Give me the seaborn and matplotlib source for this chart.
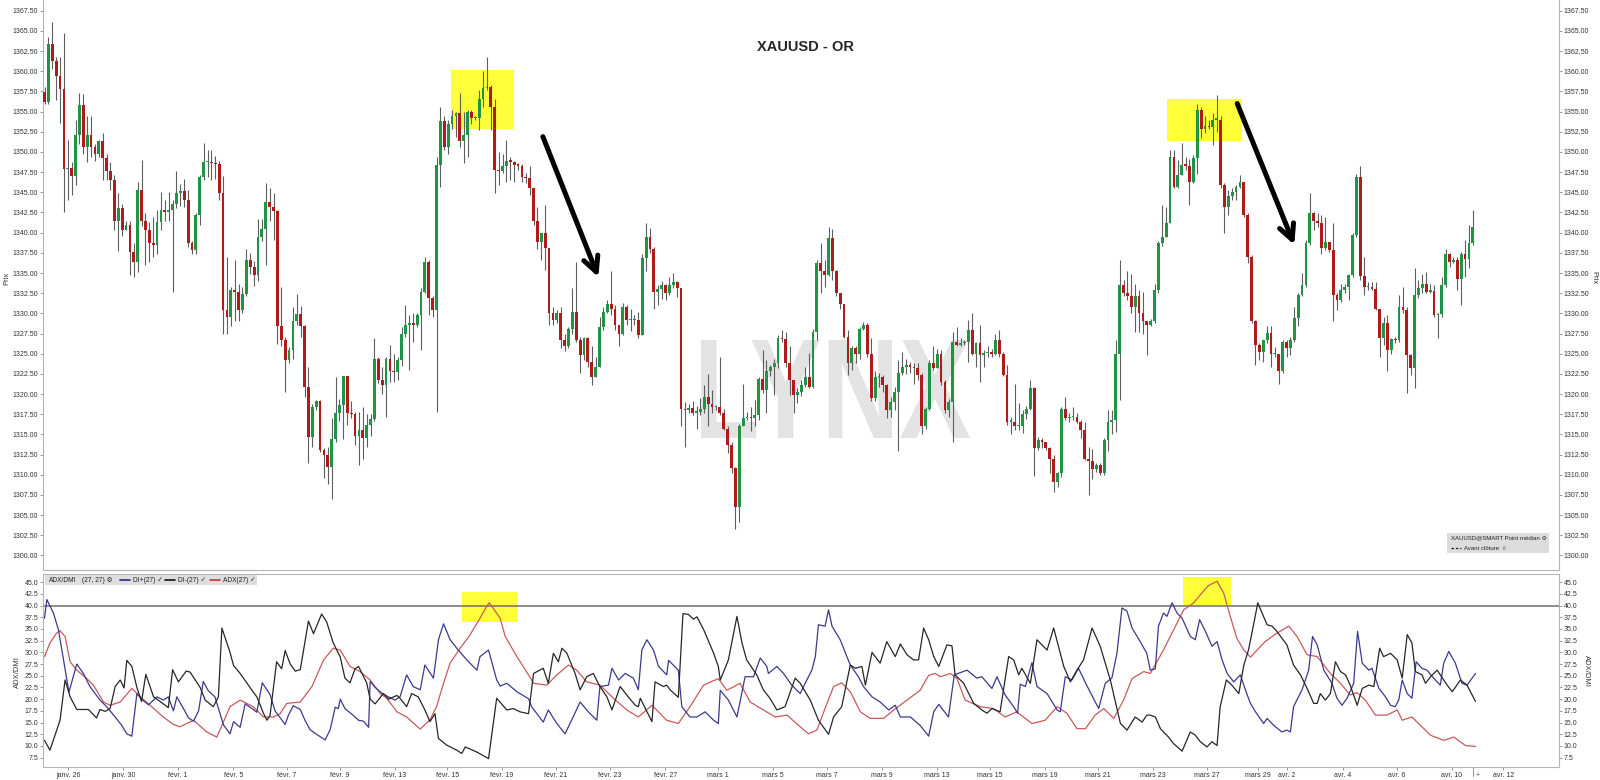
import numpy as np
import matplotlib
matplotlib.use("Agg")
import matplotlib.pyplot as plt
import seaborn as sns
from matplotlib.patches import Rectangle, PathPatch
from matplotlib.lines import Line2D
from matplotlib.textpath import TextPath
from matplotlib.font_manager import FontProperties
from matplotlib.transforms import Affine2D

# --- price data (4h candles) ---
first_open = 1357.4

closes = [
    # janv. 25 -> févr. 12
    1356.2, 1363.4, 1361.3, 1359.4, 1357.8, 1347.9, 1348.0, 1347.0, 1352.1, 1355.8,
    1350.6, 1352.1, 1350.6, 1349.8, 1351.3, 1349.3, 1347.7, 1346.5, 1341.5, 1343.0,
    1340.3, 1341.0, 1337.6, 1336.4, 1345.3, 1341.5, 1340.3, 1338.7, 1338.5, 1341.3,
    1342.8, 1342.6, 1342.8, 1343.6, 1344.9, 1345.2, 1344.0, 1338.7, 1337.8, 1342.2,
    1346.9, 1348.7, 1348.8, 1348.6, 1348.5, 1344.9, 1330.4, 1329.5, 1332.9, 1332.6,
    1330.4, 1332.4, 1336.6, 1335.7, 1334.7, 1339.5, 1340.5, 1343.8, 1343.2, 1342.7,
    1328.4, 1326.7, 1324.2, 1325.5, 1329.1, 1329.9, 1328.4, 1320.9, 1314.7, 1318.4,
    1319.1, 1313.1, 1312.5, 1311.0, 1314.4, 1317.6, 1318.6, 1322.2, 1317.6, 1317.5,
    1314.8, 1315.6, 1314.5, 1316.2, 1316.9, 1324.4, 1321.8, 1321.1, 1324.4, 1322.8,
    1322.7,
    # févr. 12 -> mars 5
    1324.2, 1327.5, 1328.6, 1328.8, 1328.5, 1329.8, 1332.6, 1336.4, 1331.9, 1330.4,
    1348.4, 1353.8, 1350.6, 1353.5, 1354.4, 1354.8, 1351.3, 1352.1, 1355.0, 1354.2,
    1354.2, 1356.6, 1357.9, 1358.1, 1355.6, 1347.8, 1347.6, 1348.2, 1348.9, 1348.8,
    1348.4, 1348.3, 1346.9, 1346.8, 1345.5, 1341.4, 1338.9, 1339.9, 1338.1, 1330.0,
    1329.2, 1330.0, 1326.7, 1325.9, 1328.1, 1330.2, 1326.7, 1324.8, 1326.9, 1324.0,
    1322.1, 1323.3, 1328.3, 1330.2, 1331.2, 1330.5, 1328.6, 1327.5, 1330.8, 1329.2,
    1329.2, 1329.2, 1327.3, 1336.8, 1339.5, 1338.0, 1332.7, 1333.0, 1333.5, 1332.5,
    1333.5, 1333.9, 1333.1, 1318.2, 1318.0, 1318.3, 1317.7, 1317.8, 1318.2, 1319.6,
    1318.8, 1318.4, 1318.4, 1317.6, 1315.7, 1313.7, 1310.8, 1306.0, 1316.1, 1317.0,
    1317.2, 1317.0, 1317.4, 1321.9, 1320.5, 1322.8, 1323.3, 1323.8, 1326.9, 1326.8,
    1323.8, 1321.7, 1319.9,
    # mars 5 -> mars 23
    1320.3, 1321.1, 1322.1, 1320.9, 1327.7, 1336.2, 1335.2, 1334.8, 1339.3, 1335.2,
    1332.5, 1331.2, 1327.1, 1323.8, 1325.7, 1325.0, 1328.1, 1328.5, 1325.0, 1319.5,
    1322.1, 1322.1, 1321.1, 1318.0, 1319.0, 1320.3, 1322.6, 1323.4, 1323.6, 1323.3,
    1323.2, 1322.4, 1316.0, 1318.2, 1323.8, 1323.2, 1325.0, 1321.5, 1318.0, 1319.0,
    1326.5, 1326.1, 1326.3, 1326.5, 1327.9, 1325.0, 1326.3, 1324.8, 1325.1, 1325.2,
    1325.0, 1326.7, 1325.0, 1322.4, 1316.6, 1316.6, 1316.0, 1316.1, 1317.5, 1318.2,
    1320.7, 1313.3, 1314.3, 1314.1, 1313.3, 1312.0, 1309.1, 1310.2, 1318.2, 1317.0,
    1317.1, 1317.2, 1316.6, 1315.5, 1311.9, 1311.7, 1310.7, 1311.2, 1310.2, 1314.3,
    1316.6, 1316.8, 1325.0, 1333.5, 1332.5, 1332.1, 1330.8, 1332.1, 1330.0, 1329.0,
    1328.6, 1329.0, 1332.9, 1338.7, 1339.5, 1341.2,
    # mars 23 -> avr. 10
    1349.4, 1345.7, 1347.1, 1348.4, 1348.3, 1346.3, 1349.2, 1355.2, 1352.9, 1353.2,
    1353.1, 1354.0, 1354.0, 1345.9, 1343.2, 1344.5, 1345.1, 1345.7, 1346.3, 1342.2,
    1337.0, 1329.0, 1326.1, 1325.2, 1326.7, 1327.6, 1325.0, 1325.0, 1322.8, 1326.5,
    1325.7, 1326.7, 1329.4, 1332.3, 1333.5, 1338.7, 1342.4, 1341.4, 1341.2, 1338.1,
    1338.8, 1337.9, 1332.3, 1331.7, 1332.9, 1333.3, 1334.7, 1339.7, 1346.9, 1334.6,
    1333.3, 1333.3, 1333.0, 1330.6, 1326.9, 1328.8, 1325.5, 1326.8, 1326.7, 1330.8,
    1330.4, 1324.8, 1323.2, 1332.3, 1333.1, 1333.7, 1332.7, 1332.8, 1329.8, 1329.9,
    1333.5, 1337.4, 1336.4, 1336.6, 1334.3, 1337.4, 1336.7, 1338.7, 1340.7,
]

highs = [
    1358.0, 1364.2, 1366.1, 1361.8, 1361.8, 1364.8, 1351.5, 1348.7, 1353.9, 1357.3,
    1357.2, 1354.5, 1354.4, 1351.0, 1351.5, 1352.4, 1349.7, 1348.8, 1347.1, 1344.9,
    1343.5, 1341.5, 1341.5, 1338.7, 1346.3, 1349.0, 1342.4, 1341.3, 1341.9, 1342.8,
    1345.1, 1344.0, 1345.1, 1344.0, 1347.7, 1346.0, 1346.7, 1345.3, 1339.0, 1342.4,
    1347.1, 1351.1, 1350.2, 1350.2, 1349.5, 1348.9, 1347.0, 1337.0, 1333.3, 1336.6,
    1333.7, 1333.3, 1338.0, 1337.5, 1336.5, 1341.7, 1341.7, 1346.2, 1345.5, 1344.9,
    1342.8, 1333.3, 1327.1, 1325.8, 1330.8, 1332.4, 1330.9, 1328.5, 1323.3, 1318.8,
    1319.3, 1319.3, 1313.3, 1313.4, 1317.0, 1322.1, 1319.4, 1322.3, 1322.3, 1319.2,
    1317.8, 1317.8, 1318.4, 1317.5, 1317.5, 1326.9, 1324.6, 1323.3, 1324.6, 1326.1,
    1325.0,
    1324.6, 1328.3, 1331.0, 1329.8, 1330.0, 1330.0, 1333.1, 1337.0, 1336.6, 1332.1,
    1349.4, 1355.6, 1354.4, 1354.0, 1355.2, 1355.0, 1357.3, 1355.0, 1355.2, 1355.2,
    1354.4, 1357.7, 1360.0, 1361.8, 1358.3, 1356.6, 1350.0, 1349.8, 1351.5, 1349.4,
    1348.9, 1348.6, 1348.5, 1347.4, 1348.2, 1345.5, 1343.2, 1340.0, 1343.4, 1338.1,
    1330.8, 1330.4, 1330.8, 1327.5, 1328.3, 1333.1, 1336.4, 1327.1, 1327.1, 1327.1,
    1325.9, 1324.6, 1329.6, 1330.8, 1331.6, 1335.2, 1331.0, 1328.6, 1331.3, 1331.0,
    1330.5, 1329.8, 1330.2, 1337.4, 1341.2, 1340.6, 1338.2, 1333.5, 1334.0, 1333.7,
    1334.5, 1335.0, 1334.0, 1333.2, 1319.0, 1318.8, 1319.1, 1318.5, 1319.5, 1321.1,
    1322.5, 1320.5, 1318.7, 1324.6, 1318.2, 1316.0, 1314.0, 1311.0, 1316.3, 1321.3,
    1317.8, 1318.4, 1319.3, 1322.1, 1325.5, 1324.2, 1323.6, 1324.4, 1327.3, 1327.9,
    1327.7, 1325.9, 1321.7,
    1320.7, 1321.7, 1323.4, 1325.1, 1328.1, 1336.6, 1338.7, 1336.6, 1340.7, 1340.5,
    1335.4, 1332.5, 1331.2, 1327.9, 1325.9, 1325.9, 1328.3, 1328.9, 1328.8, 1326.9,
    1322.8, 1322.6, 1322.4, 1321.3, 1319.6, 1320.9, 1324.2, 1325.2, 1324.4, 1324.0,
    1323.8, 1323.8, 1322.6, 1318.4, 1324.2, 1325.9, 1325.6, 1325.5, 1321.7, 1319.4,
    1327.7, 1328.3, 1326.9, 1326.7, 1329.2, 1330.0, 1326.5, 1328.6, 1325.5, 1325.9,
    1325.6, 1327.5, 1328.0, 1325.2, 1323.6, 1317.2, 1321.3, 1318.9, 1318.0, 1318.5,
    1321.7, 1320.9, 1314.7, 1314.5, 1313.6, 1313.5, 1312.4, 1310.4, 1318.4, 1319.6,
    1317.6, 1318.4, 1317.6, 1316.8, 1316.6, 1313.4, 1313.2, 1311.4, 1311.4, 1314.5,
    1318.0, 1318.0, 1326.7, 1336.6, 1334.1, 1335.2, 1334.9, 1333.7, 1332.9, 1332.7,
    1329.0, 1329.3, 1333.7, 1339.0, 1343.4, 1343.2,
    1350.2, 1350.2, 1349.0, 1351.1, 1349.4, 1349.1, 1349.6, 1356.0, 1355.6, 1354.4,
    1354.0, 1354.8, 1357.0, 1354.4, 1346.1, 1345.3, 1345.5, 1345.9, 1347.1, 1346.3,
    1342.4, 1337.2, 1329.2, 1326.3, 1326.7, 1328.4, 1328.4, 1325.8, 1325.0, 1326.7,
    1326.7, 1327.1, 1330.8, 1332.5, 1335.0, 1339.1, 1344.9, 1342.6, 1342.4, 1342.2,
    1341.9, 1338.8, 1341.2, 1332.5, 1333.7, 1333.7, 1334.9, 1339.9, 1347.3, 1348.2,
    1337.0, 1333.9, 1333.9, 1333.9, 1330.6, 1329.6, 1329.8, 1326.9, 1327.1, 1332.3,
    1333.3, 1330.8, 1325.0, 1335.6, 1334.1, 1334.9, 1335.1, 1333.7, 1333.5, 1330.1,
    1334.5, 1338.0, 1337.5, 1337.0, 1337.0, 1337.6, 1339.1, 1340.9, 1342.8,
]

lows = [
    1355.9, 1356.0, 1360.3, 1356.4, 1353.6, 1342.5, 1344.0, 1344.7, 1345.9, 1351.0,
    1349.8, 1348.8, 1349.4, 1348.9, 1349.4, 1346.5, 1346.5, 1345.3, 1340.3, 1337.7,
    1339.6, 1340.3, 1334.7, 1334.5, 1335.1, 1340.8, 1336.0, 1336.4, 1337.0, 1337.4,
    1340.3, 1341.5, 1341.5, 1332.7, 1343.0, 1343.3, 1343.2, 1338.2, 1337.4, 1337.4,
    1340.9, 1346.5, 1346.9, 1346.5, 1346.7, 1344.0, 1327.5, 1327.5, 1328.4, 1329.1,
    1329.0, 1330.0, 1332.2, 1334.9, 1333.4, 1334.0, 1339.0, 1336.0, 1341.5, 1339.1,
    1326.2, 1326.0, 1320.2, 1323.8, 1324.4, 1328.5, 1327.1, 1319.6, 1311.4, 1313.4,
    1318.0, 1312.8, 1309.6, 1308.8, 1307.0, 1314.0, 1316.7, 1314.4, 1316.2, 1317.0,
    1313.7, 1311.2, 1312.0, 1313.5, 1314.8, 1316.7, 1321.4, 1320.0, 1317.1, 1321.5,
    1321.5,
    1321.7, 1323.5, 1327.1, 1323.0, 1326.5, 1328.3, 1325.5, 1332.5, 1329.8, 1329.6,
    1317.8, 1345.7, 1350.2, 1349.8, 1352.9, 1351.9, 1350.6, 1348.6, 1349.4, 1353.5,
    1354.0, 1352.7, 1355.6, 1357.7, 1352.7, 1344.9, 1345.9, 1347.4, 1346.3, 1346.5,
    1346.3, 1347.8, 1346.3, 1346.2, 1344.7, 1341.0, 1338.0, 1336.6, 1335.4, 1328.6,
    1328.6, 1328.8, 1325.7, 1325.3, 1325.7, 1327.5, 1326.5, 1322.6, 1324.2, 1323.3,
    1321.1, 1322.1, 1323.3, 1328.0, 1330.0, 1329.8, 1328.0, 1326.0, 1327.3, 1328.5,
    1327.8, 1328.5, 1327.0, 1327.3, 1335.2, 1337.5, 1330.5, 1331.0, 1331.8, 1331.6,
    1332.3, 1333.2, 1332.0, 1316.0, 1313.5, 1317.6, 1317.4, 1315.7, 1317.4, 1317.6,
    1316.0, 1317.6, 1318.0, 1317.4, 1315.5, 1312.7, 1310.2, 1303.3, 1304.2, 1316.2,
    1316.8, 1315.4, 1316.0, 1316.8, 1320.1, 1317.6, 1322.2, 1319.9, 1323.2, 1326.5,
    1323.4, 1319.9, 1317.6,
    1318.9, 1319.7, 1320.9, 1320.7, 1320.7, 1326.7, 1332.5, 1333.3, 1334.6, 1334.1,
    1332.1, 1330.6, 1326.9, 1322.4, 1323.0, 1323.8, 1324.4, 1327.9, 1324.6, 1319.2,
    1319.2, 1320.9, 1320.3, 1317.0, 1317.2, 1318.0, 1313.0, 1322.4, 1322.5, 1322.6,
    1321.3, 1321.7, 1315.1, 1315.7, 1318.0, 1323.0, 1323.4, 1321.1, 1317.6, 1317.2,
    1314.1, 1325.9, 1325.9, 1326.1, 1324.0, 1324.8, 1323.4, 1321.5, 1323.4, 1324.6,
    1324.6, 1324.8, 1324.6, 1322.2, 1316.2, 1315.1, 1315.5, 1315.5, 1315.2, 1316.9,
    1318.0, 1309.8, 1313.1, 1313.3, 1313.1, 1310.2, 1307.9, 1308.5, 1309.7, 1316.8,
    1316.6, 1316.8, 1316.4, 1314.5, 1311.8, 1307.5, 1309.5, 1310.4, 1310.0, 1310.0,
    1313.0, 1315.1, 1315.3, 1319.3, 1332.1, 1331.6, 1330.0, 1327.7, 1327.7, 1327.5,
    1324.8, 1328.4, 1328.8, 1332.5, 1338.3, 1339.5,
    1341.2, 1345.5, 1345.5, 1347.1, 1347.8, 1343.4, 1346.1, 1347.3, 1351.7, 1352.3,
    1352.9, 1350.9, 1352.5, 1345.5, 1339.9, 1342.2, 1344.0, 1344.0, 1345.5, 1342.0,
    1336.2, 1328.8, 1323.6, 1324.2, 1324.0, 1326.3, 1323.4, 1324.6, 1321.3, 1322.6,
    1324.6, 1324.8, 1326.5, 1328.4, 1332.1, 1333.3, 1338.5, 1340.3, 1340.7, 1337.4,
    1337.8, 1337.6, 1329.0, 1330.4, 1331.4, 1332.5, 1331.7, 1334.5, 1339.5, 1334.1,
    1332.3, 1332.9, 1332.9, 1330.4, 1324.6, 1326.1, 1322.8, 1325.0, 1326.3, 1326.5,
    1330.0, 1320.1, 1322.4, 1320.7, 1331.9, 1332.5, 1332.5, 1332.5, 1329.6, 1326.9,
    1329.6, 1333.3, 1335.8, 1336.2, 1332.9, 1331.0, 1334.5, 1335.6, 1338.5,
]

# --- ADX / DMI (27, 27): (bar index, value) ---
di_plus = [
    (0, 37.3), (0.6, 41.3), (2.3, 38.4), (3.6, 34.8), (4.9, 28.4), (6.3, 21.5), (8.3, 27.5), (10.0, 25.5), (11.7, 22.7), (14.3, 19.8),
    (16.0, 18.4), (18.2, 16.2), (19.9, 14.4), (21.2, 12.6), (22.5, 12.1), (23.8, 21.2), (25.0, 20.0), (26.8, 18.8), (29.0, 20.5), (30.6, 19.8),
    (31.9, 20.5), (33.2, 17.5), (34.1, 20.5), (35.8, 18.0), (37.1, 16.0), (38.4, 15.3), (39.7, 17.5), (40.9, 23.8), (42.2, 21.8), (43.9, 20.5),
    (45.2, 17.0), (46.1, 14.5), (47.8, 12.6), (48.7, 15.2), (50.4, 14.0), (51.7, 19.0), (53.8, 17.8), (54.7, 17.2), (56.1, 23.5), (58.1, 21.0),
    (59.4, 17.5), (62.0, 14.6), (62.8, 16.5), (64.1, 18.6), (65.9, 17.8), (67.1, 15.5), (68.4, 13.5), (70.1, 12.5), (72.3, 11.3), (73.6, 13.5),
    (74.9, 18.3), (75.7, 18.0), (76.2, 20.0), (77.4, 18.0), (79.6, 16.5), (80.9, 15.5), (82.2, 15.3), (83.5, 14.0), (83.9, 23.8), (85.2, 22.5),
    (86.9, 21.3), (88.6, 20.5), (90.3, 19.8),
    (91.6, 20.5), (93.3, 25.2), (95.0, 22.7), (96.8, 22.0), (98.0, 27.3), (100.2, 24.5), (101.5, 32.7), (102.8, 36.1), (104.5, 32.7), (106.6, 30.5),
    (108.8, 28.4), (111.4, 26.2), (112.2, 29.1), (114.4, 30.5), (116.5, 24.1), (117.4, 22.8), (119.1, 23.4), (121.7, 21.6), (124.7, 20.1), (125.5, 18.4),
    (128.5, 15.1), (129.8, 17.7), (132.0, 14.8), (134.1, 12.6), (135.8, 15.5), (138.0, 19.4), (140.1, 17.3), (142.3, 15.5), (143.1, 22.7), (145.3, 23.0),
    (146.2, 26.6), (147.9, 24.1), (149.6, 25.5), (151.7, 24.5), (153.0, 22.0), (153.9, 30.5), (155.2, 32.7), (156.9, 30.5), (158.2, 27.0), (160.3, 25.2),
    (160.8, 28.3), (163.3, 26.2), (164.2, 18.4), (166.3, 16.2), (168.1, 16.2), (170.2, 17.3), (172.4, 15.5), (173.6, 14.8), (174.1, 21.9), (176.2, 19.8),
    (178.4, 16.2), (180.5, 24.8), (182.7, 24.8), (184.4, 28.8), (186.1, 27.0), (186.5, 25.5), (188.7, 27.0), (190.4, 25.5), (192.5, 23.0),
    (194.7, 21.2), (196.4, 24.1), (197.7, 26.2), (198.6, 29.1), (199.4, 35.9), (201.1, 35.6), (202.0, 39.1), (202.9, 35.6), (205.0, 32.7), (207.6, 27.3),
    (209.7, 24.8), (211.0, 22.7), (213.2, 20.5), (215.3, 19.4), (217.5, 17.7), (219.2, 18.7), (220.5, 16.2), (223.1, 16.2), (225.6, 14.4), (227.8, 12.1),
    (229.1, 17.3), (230.4, 18.9), (232.9, 16.2), (234.4, 25.2), (237.7, 26.2), (240.2, 24.5), (241.5, 24.8), (244.1, 22.3), (245.4, 24.8), (247.5, 20.9),
    (249.7, 18.4), (250.7, 17.0), (251.4, 23.2), (252.7, 22.7), (254.4, 27.8), (255.7, 22.7), (258.3, 21.2), (260.9, 17.7), (261.7, 17.3), (263.0, 24.8),
    (264.7, 24.1), (266.4, 26.6), (268.5, 23.0), (271.6, 18.0), (273.3, 23.4), (275.0, 24.5), (276.3, 29.8), (277.6, 39.5), (278.9, 38.8), (280.2, 35.2),
    (282.3, 32.3), (284.0, 29.8),
    (284.9, 26.2), (286.2, 26.5), (287.0, 35.6), (288.3, 38.4), (289.2, 37.7), (290.5, 40.6), (291.8, 38.4), (293.1, 37.3), (295.2, 33.4), (296.5, 32.7),
    (297.6, 37.0), (299.1, 34.5), (300.8, 31.3), (302.1, 32.3), (303.4, 28.4), (304.7, 25.5), (306.4, 23.7), (308.1, 25.2), (309.4, 22.0), (310.7, 19.1),
    (312.0, 17.3), (314.1, 14.8), (315.0, 15.9), (316.7, 14.4), (318.8, 13.0), (320.1, 13.4), (321.0, 13.0), (321.8, 18.4), (324.0, 22.0), (325.7, 26.2),
    (326.7, 33.4), (327.9, 31.6), (329.6, 26.2), (331.7, 23.4), (333.0, 20.2), (334.3, 18.7), (335.6, 20.2), (337.3, 23.4), (338.3, 34.5), (339.5, 27.7),
    (341.2, 26.2), (342.0, 26.6), (343.8, 22.3), (345.5, 20.5), (346.8, 18.7), (348.0, 18.4), (348.9, 19.8), (349.8, 24.1), (351.1, 21.2), (352.3, 20.2),
    (353.4, 28.0), (354.9, 26.6), (356.2, 26.2), (357.9, 24.5), (359.6, 23.0), (360.5, 27.7), (361.8, 30.2), (363.5, 27.7), (365.2, 23.4), (366.5, 23.0),
    (368.7, 25.5),
]

di_minus = [
    (0, 11.2), (1.4, 9.1), (4.0, 15.5), (5.3, 24.1), (6.6, 20.5), (8.3, 17.8), (11.3, 17.8), (13.4, 16.0), (14.3, 17.8), (15.6, 17.4),
    (16.9, 18.0), (18.2, 22.7), (19.5, 24.1), (20.5, 22.4), (21.2, 28.3), (22.5, 27.0), (23.8, 22.5), (25.0, 19.5), (26.1, 25.3), (28.1, 20.5),
    (29.3, 19.8), (30.6, 19.0), (31.9, 18.2), (33.0, 26.3), (34.5, 23.7), (36.5, 26.0), (37.5, 25.8), (40.1, 22.5), (41.4, 19.8), (43.5, 18.4),
    (44.8, 20.5), (45.7, 35.2), (47.8, 30.0), (48.7, 27.2), (50.4, 25.5), (52.1, 23.5), (53.8, 21.5), (54.7, 20.5), (56.4, 17.0), (57.3, 15.5),
    (58.1, 16.5), (59.8, 28.0), (61.1, 26.5), (62.0, 30.4), (63.3, 27.5), (64.6, 26.0), (65.9, 26.3), (68.0, 36.7), (69.3, 34.0), (71.4, 38.2),
    (72.7, 36.5), (74.4, 32.0), (76.2, 29.0), (77.4, 24.5), (78.7, 23.5), (80.0, 26.5), (80.9, 27.0), (83.0, 23.5), (83.9, 20.0), (85.2, 19.0),
    (87.3, 21.2), (88.6, 20.0), (90.8, 20.8),
    (91.6, 20.2), (93.3, 18.4), (94.6, 21.2), (96.3, 20.5), (98.0, 17.7), (99.3, 15.2), (100.6, 16.9), (101.5, 11.6), (103.6, 10.2), (106.2, 9.1),
    (107.5, 8.4), (108.4, 9.8), (111.4, 8.7), (114.4, 7.3), (116.5, 20.2), (119.1, 17.7), (120.8, 18.0), (122.5, 17.3), (124.7, 16.9), (126.0, 25.5),
    (128.5, 26.6), (129.8, 23.4), (131.1, 29.8), (132.4, 28.0), (133.3, 30.9), (134.6, 29.8), (136.7, 25.5), (138.0, 22.0), (139.7, 24.8), (141.4, 25.5),
    (143.1, 22.7), (144.9, 20.5), (146.2, 17.7), (148.3, 22.7), (150.4, 20.5), (152.2, 18.7), (153.0, 18.4), (153.5, 20.2), (156.5, 15.2), (157.3, 23.7),
    (159.5, 22.7), (160.3, 23.0), (161.2, 22.0), (163.3, 20.4), (164.5, 38.3), (165.9, 38.1), (167.2, 37.1), (168.1, 37.6), (169.8, 34.9), (172.4, 29.8),
    (173.6, 27.0), (174.1, 24.1), (176.2, 28.4), (178.4, 37.7), (179.7, 32.0), (180.9, 28.4), (183.5, 25.2), (185.2, 22.0), (186.9, 20.2), (188.7, 17.7),
    (190.8, 18.4), (193.4, 24.5),
    (194.7, 23.4), (197.3, 19.8), (199.4, 15.5), (202.0, 12.5), (203.3, 16.2), (205.4, 18.4), (207.6, 27.3), (208.9, 26.6), (210.6, 27.0), (211.5, 23.0),
    (213.2, 30.0), (215.3, 27.7), (217.0, 32.3), (219.2, 29.1), (220.5, 31.8), (222.2, 29.5), (223.9, 28.4), (225.2, 28.4), (226.5, 35.2), (227.8, 32.7),
    (229.1, 29.1), (230.4, 27.0), (232.5, 31.6), (233.8, 31.4), (234.6, 25.2), (236.8, 23.4), (239.4, 19.1), (241.5, 17.7), (242.8, 17.0), (244.1, 18.0),
    (246.2, 17.3), (248.4, 29.1), (249.7, 28.4), (251.0, 25.2), (251.8, 26.6), (254.0, 23.4), (255.7, 32.7), (258.3, 30.5), (260.0, 35.2), (262.6, 27.0),
    (264.3, 23.7), (266.0, 26.2), (267.7, 28.4), (269.9, 35.2), (272.0, 31.3), (274.6, 24.1), (277.2, 14.8), (278.9, 13.4), (281.0, 16.2), (282.8, 15.1),
    (284.0, 16.6),
    (284.9, 16.6), (286.2, 16.2), (287.5, 13.7), (289.6, 11.9), (290.9, 10.5), (293.1, 8.9), (295.2, 13.0), (296.5, 12.3), (297.8, 10.9), (299.5, 9.8),
    (300.8, 10.9), (302.1, 10.1), (302.9, 18.4), (304.5, 24.1), (305.9, 23.0), (307.7, 21.2), (309.0, 27.3), (310.2, 30.5), (311.5, 35.9), (312.6, 40.6),
    (313.7, 38.4), (315.0, 35.9), (316.3, 35.6), (317.5, 34.5), (320.1, 31.6), (321.8, 27.3), (323.6, 25.2), (325.3, 22.3), (327.0, 19.1), (327.9, 19.1),
    (328.7, 21.2), (330.0, 19.8), (331.3, 21.2), (332.6, 28.0), (333.9, 25.9), (335.2, 25.2), (336.4, 23.0), (338.2, 18.7), (339.5, 22.3), (341.2, 23.0),
    (342.5, 22.7), (344.0, 30.9), (345.0, 29.1), (346.8, 29.8), (348.5, 28.4), (349.8, 24.5), (351.1, 33.8), (352.3, 32.0), (353.2, 25.9), (354.9, 25.2),
    (355.8, 23.4), (357.1, 24.8), (358.8, 26.2), (361.4, 23.0), (362.7, 21.6), (364.8, 24.1), (366.5, 23.0), (368.7, 19.5),
]

adx = [
    (0, 29.1), (1.4, 32.0), (3.1, 34.1), (4.0, 34.6), (5.3, 33.4), (6.6, 28.0), (8.3, 26.2), (10.4, 24.8), (12.6, 23.0), (15.2, 19.4),
    (16.9, 18.7), (19.5, 19.4), (22.5, 22.3), (24.7, 20.5), (27.2, 18.7), (30.6, 16.2), (33.2, 14.6), (34.9, 14.1), (38.4, 15.5), (41.8, 13.0),
    (44.4, 11.9), (47.8, 18.4), (50.4, 19.8), (53.8, 18.4), (56.4, 16.2), (59.0, 16.2), (60.7, 16.9), (62.4, 19.1), (65.9, 19.4), (68.9, 22.7),
    (71.9, 28.4), (74.4, 30.9), (76.2, 30.5), (78.7, 27.0), (81.3, 25.9), (83.9, 24.1), (86.5, 21.2), (88.2, 20.2), (90.8, 17.3),
    (93.3, 16.2), (96.8, 13.6), (99.3, 15.6), (101.0, 18.4), (102.8, 23.4), (104.5, 27.7), (107.1, 30.9), (109.6, 33.7), (112.2, 37.3), (113.9, 39.8),
    (114.6, 40.6), (117.4, 37.3), (118.7, 33.4), (121.7, 29.1), (124.7, 25.2), (126.0, 23.4), (129.4, 23.0), (132.0, 25.2), (135.0, 27.3), (137.1, 26.2),
    (139.7, 23.7), (143.1, 23.0), (146.6, 20.2), (150.0, 17.7), (153.0, 16.2), (156.5, 18.7), (160.3, 15.5), (163.3, 14.8), (166.3, 18.4), (169.8, 23.0),
    (173.6, 24.4), (175.8, 21.9), (179.2, 23.4), (181.8, 19.4), (185.2, 17.7), (188.3, 16.2), (191.3, 16.6), (194.7, 14.1),
    (196.8, 12.6), (199.0, 13.4), (201.6, 19.1), (203.3, 22.7), (205.4, 23.5), (207.6, 21.6), (210.2, 17.3), (212.7, 15.9), (216.2, 15.9), (218.8, 17.7),
    (222.2, 19.8), (225.6, 21.9), (227.8, 25.1), (229.5, 25.5), (230.8, 24.8), (233.4, 25.5), (235.1, 24.4), (237.2, 19.8), (241.1, 18.4), (244.5, 18.0),
    (247.5, 16.2), (250.5, 17.3), (254.4, 14.8), (257.8, 15.5), (260.9, 18.4), (263.4, 17.0), (266.0, 13.7), (268.2, 13.7), (270.7, 16.6), (272.9, 18.0),
    (275.5, 15.9), (278.0, 19.8), (280.2, 24.4), (283.2, 25.9),
    (284.9, 25.5), (288.3, 30.5), (291.8, 36.3), (293.5, 39.1), (296.1, 40.6), (298.2, 42.7), (299.9, 44.3), (302.1, 45.2), (303.8, 42.7), (305.5, 37.7),
    (307.2, 33.0), (309.0, 30.5), (310.7, 29.0), (312.4, 30.5), (314.5, 32.3), (317.5, 34.1), (320.6, 35.6), (322.7, 33.4), (325.3, 29.5), (327.9, 29.1),
    (331.3, 25.5), (333.9, 23.4), (336.4, 20.9), (338.2, 21.4), (340.3, 19.8), (342.9, 16.6), (345.9, 16.6), (348.5, 17.7), (349.8, 15.5), (352.3, 16.2),
    (354.9, 14.1), (357.1, 12.3), (360.5, 11.2), (363.1, 11.9), (366.1, 10.1), (368.7, 9.9),
]

date_labels = ["janv. 26", "janv. 30", "févr. 1", "févr. 5", "févr. 7", "févr. 9", "févr. 13",
               "févr. 15", "févr. 19", "févr. 21", "févr. 23", "févr. 27", "mars 1", "mars 5",
               "mars 7", "mars 9", "mars 13", "mars 15", "mars 19", "mars 21", "mars 23",
               "mars 27", "mars 29", "avr. 2", "avr. 4", "avr. 6", "avr. 10", "avr. 12"]
date_tick_idx = [6.1, 20.2, 34.4, 48.6, 62.5, 76.1, 90.3, 103.8, 117.8, 131.8, 145.7, 159.9,
                 173.5, 187.6, 201.5, 215.7, 229.9, 243.6, 257.8, 271.5, 285.6, 299.5, 312.7,
                 320.1, 334.5, 348.4, 362.6, 375.9]

# ---------------------------------------------------------------------------
sns.set_theme(style="white")
plt.rcParams['font.family'] = ['Liberation Sans', 'DejaVu Sans']

W, H = 1600, 780
GREEN, RED = "#1f9447", "#b11a1a"
YELLOW = "#ffff3a"


def fx(px):
    return px / W


def fy(py):
    return 1 - py / H


fig = plt.figure(figsize=(16, 7.8), dpi=100)
ax = fig.add_axes([fx(43), fy(570), (1559 - 43) / W, 570 / H])
ax2 = fig.add_axes([fx(43), fy(767), (1559 - 43) / W, (767 - 574) / H], sharex=ax)

n = min(len(closes), len(highs), len(lows))
c = np.array(closes[:n])
hi = np.array(highs[:n])
lo = np.array(lows[:n])
o = np.concatenate([[first_open], c[:-1]])
hi = np.maximum(hi, np.maximum(o, c))
lo = np.minimum(lo, np.minimum(o, c))
x = np.arange(n)
cols = np.where(c >= o, GREEN, RED)

# watermark
tp = TextPath((0, 0), "LYNX", size=100, prop=FontProperties(family="Liberation Sans", weight="bold"))
bb = tp.get_extents()
x0, x1, ytop, ybot = 701, 970, 340, 438
tr = (Affine2D().translate(-bb.x0, -bb.y0)
      .scale((x1 - x0) / bb.width, (ybot - ytop) / bb.height)
      .translate(x0, H - ybot).scale(1 / 100.0)) + fig.dpi_scale_trans
ax.add_artist(PathPatch(tp, transform=tr, facecolor="#e3e3e3", edgecolor="none", zorder=0.5))

# highlight boxes
ax.add_patch(Rectangle((104.7, 1352.8), 16.3, 7.35, facecolor=YELLOW, edgecolor="none", zorder=1))
ax.add_patch(Rectangle((289.2, 1351.4), 19.4, 5.2, facecolor=YELLOW, edgecolor="none", zorder=1))
ax2.add_patch(Rectangle((107.5, 36.6), 14.2, 6.3, facecolor=YELLOW, edgecolor="none", zorder=1))
ax2.add_patch(Rectangle((293.4, 40.1), 12.3, 6.1, facecolor=YELLOW, edgecolor="none", zorder=1))

# candles
ax.vlines(x, lo, hi, color="#5e5e5e", lw=0.8, zorder=2)
ax.bar(x, np.maximum(np.abs(c - o), 0.15), bottom=np.minimum(o, c), width=0.72,
       color=cols, linewidth=0, zorder=3)

# arrows
for (xs, ys), (xe, ye) in [((128.4, 1351.9), (142.7, 1334.5)), ((307.3, 1356.0), (322.0, 1338.5))]:
    ax.annotate("", xy=(xe, ye), xytext=(xs, ys), zorder=4,
                arrowprops=dict(arrowstyle="->,head_length=0.9,head_width=0.45",
                                lw=3.6, color="black", mutation_scale=12, shrinkA=0, shrinkB=0))

# DMI panel
ax2.axhline(40, color="#6e6e6e", lw=1.1, zorder=1.5)
for data, col in [(adx, "#c85a5a"), (di_plus, "#3a3a8e"), (di_minus, "#262626")]:
    xs, ys = zip(*data)
    sns.lineplot(x=list(xs), y=list(ys), ax=ax2, color=col, lw=0.9,
                 estimator=None, sort=False, legend=False, zorder=2)

# axes cosmetics
ax.set_xlim(-0.39, 390.2)
ax.set_ylim(1298.2, 1368.83)
ax.set_yticks(np.arange(1300, 1368, 2.5))
ax.yaxis.set_major_formatter(matplotlib.ticker.FormatStrFormatter("%.2f"))
ax2.set_ylim(5.51, 46.75)
ax2.set_yticks(np.arange(7.5, 45.1, 2.5))
ax2.yaxis.set_major_formatter(matplotlib.ticker.FormatStrFormatter("%.1f"))
ax.tick_params(axis="x", bottom=False, labelbottom=False)
for a in (ax, ax2):
    a.tick_params(axis="y", left=True, right=True, labelleft=True, labelright=True,
                  labelsize=5, length=2, width=0.6, pad=1.5, color="#888888", labelcolor="#333333")
    a.set_xlabel("")
    a.set_ylabel("")
    for s in a.spines.values():
        s.set_color("#b4b4b4")
        s.set_linewidth(0.8)
ax.spines["top"].set_visible(False)
ax2.set_xticks(date_tick_idx)
ax2.set_xticklabels(date_labels)
ax2.tick_params(axis="x", bottom=True, labelsize=5, length=2, width=0.6, pad=1.5,
                color="#888888", labelcolor="#333333")

# axis titles
fig.text(fx(7), fy(278), "Prix", rotation=90, fontsize=5.5, ha="center", va="center", color="#333333")
fig.text(fx(1594), fy(278), "Prix", rotation=270, fontsize=5.5, ha="center", va="center", color="#333333")
fig.text(fx(17), fy(672), "ADX/DMI", rotation=90, fontsize=5.5, ha="center", va="center", color="#333333")
fig.text(fx(1586), fy(671), "ADX/DMI", rotation=270, fontsize=5.5, ha="center", va="center", color="#333333")

fig.text(fx(805), fy(47), "XAUUSD - OR", fontsize=10.5, fontweight="bold", ha="center", va="center")

# indicator legend strip
fig.add_artist(Rectangle((fx(45), fy(585)), (257 - 45) / W, 10 / H, transform=fig.transFigure,
                         facecolor="#dedede", edgecolor="none", zorder=5))
ly = fy(580)
tkw = dict(fontsize=4.8, va="center", color="#222222", zorder=6)
fig.text(fx(49), ly, "ADX/DMI", **tkw)
fig.text(fx(82), ly, "(27, 27) \u2699", **tkw)
for (a0, a1, col, lab, tx) in [(120, 130, "#2a2a8e", "DI+(27) \u2713", 133),
                               (165, 175, "#111111", "DI-(27) \u2713", 178),
                               (210, 220, "#cc3333", "ADX(27) \u2713", 223)]:
    fig.add_artist(Line2D([fx(a0), fx(a1)], [ly, ly], transform=fig.transFigure, color=col, lw=1.2, zorder=6))
    fig.text(fx(tx), ly, lab, **tkw)

# price legend box
fig.add_artist(Rectangle((fx(1447), fy(553)), 102 / W, 20 / H, transform=fig.transFigure,
                         facecolor="#dcdcdc", edgecolor="none", zorder=5))
fig.text(fx(1451), fy(538), "XAUUSD@SMART Point médian \u2699", fontsize=4.3, va="center", color="#222222", zorder=6)
fig.add_artist(Line2D([fx(1451), fx(1461)], [fy(548), fy(548)], transform=fig.transFigure,
                      color="#222222", lw=0.9, ls=(0, (2, 1.5)), zorder=6))
fig.text(fx(1464), fy(548), "Avant clôture  \u25cb", fontsize=4.3, va="center", color="#222222", zorder=6)

# current-bar marker below the axis
fig.add_artist(Line2D([fx(1473), fx(1473)], [fy(767), fy(776)], transform=fig.transFigure,
                      color="#999999", lw=0.8))
fig.text(fx(1478), fy(775), "+", fontsize=5, ha="center", va="center", color="#555555")

fig.savefig("out.png", dpi=100)
